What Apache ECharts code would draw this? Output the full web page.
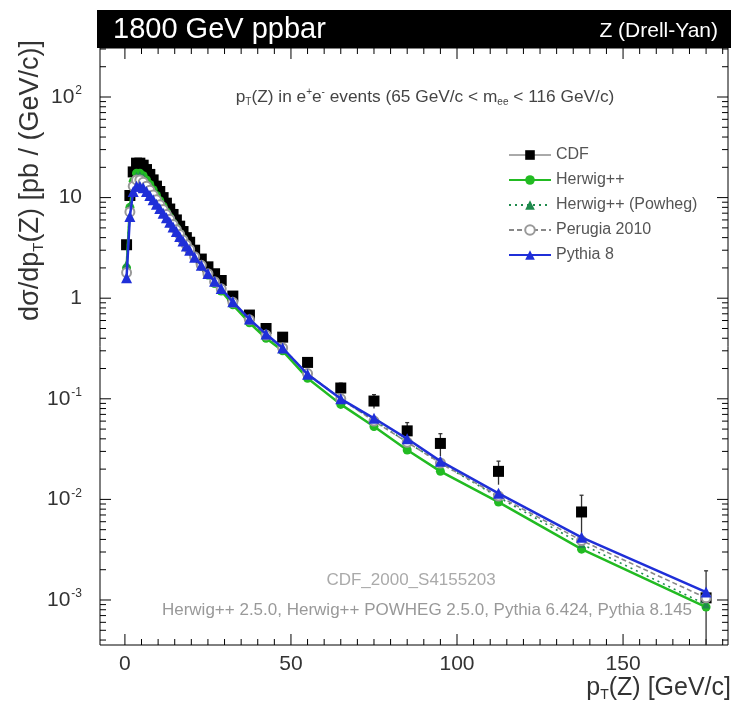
<!DOCTYPE html>
<html><head><meta charset="utf-8">
<script src="https://cdn.jsdelivr.net/npm/echarts@6/dist/echarts.min.js"></script>
<style>html,body{margin:0;padding:0;background:#fff}#c{width:738px;height:704px}</style>
</head><body><div id="c"></div>
<script>
// pT bin centres (GeV/c)
const ptBins = [0.5,1.5,2.5,3.5,4.5,5.5,6.5,7.5,8.5,9.5,10.5,11.5,12.5,13.5,14.5,15.5,16.5,17.5,18.5,19.5,21,23,25,27,29,32.5,37.5,42.5,47.5,55,65,75,85,95,112.5,137.5,175];
const cdf     = [3.4,10.5,18,22,22,21,19,17,15,13,11.5,10,8.8,7.7,6.8,6.0,5.2,4.6,4.0,3.6,3.0,2.45,2.05,1.75,1.5,1.05,0.68,0.5,0.41,0.23,0.128,0.095,0.048,0.036,0.019,0.0075,0.00105];
const cdfErr  = [0.25,0.5,0.7,0.8,0.8,0.8,0.7,0.6,0.6,0.5,0.5,0.4,0.4,0.35,0.3,0.3,0.25,0.25,0.2,0.2,0.15,0.13,0.12,0.1,0.1,0.07,0.05,0.045,0.04,0.02,0.015,0.015,0.01,0.009,0.005,0.0035,0.0009];
const herwig  = [2.0,8.0,14.5,17.5,17.5,16.5,15,13.5,12,10.5,9.3,8.2,7.2,6.4,5.6,5.0,4.4,3.9,3.45,3.05,2.55,2.08,1.7,1.4,1.18,0.86,0.57,0.4,0.3,0.16,0.088,0.053,0.031,0.019,0.0094,0.0032,0.00085];
const powheg  = [2.2,8.3,14.0,16.5,16.8,16.0,14.6,13.2,11.8,10.4,9.2,8.2,7.2,6.4,5.7,5.1,4.5,4.0,3.5,3.1,2.6,2.12,1.74,1.44,1.22,0.9,0.6,0.42,0.32,0.175,0.1,0.061,0.037,0.023,0.0105,0.0036,0.0009];
const perugia = [1.8,7.2,13.0,15.0,15.0,14.2,13.0,11.8,10.6,9.5,8.5,7.6,6.8,6.1,5.4,4.8,4.3,3.8,3.4,3.05,2.58,2.12,1.75,1.46,1.24,0.91,0.61,0.43,0.32,0.178,0.1,0.06,0.037,0.023,0.0108,0.0039,0.00105];
const pythia8 = [1.6,6.5,11.5,13,13,12.5,11.5,10.5,9.5,8.6,7.8,7.0,6.3,5.7,5.1,4.6,4.1,3.7,3.3,3.0,2.55,2.12,1.76,1.47,1.25,0.92,0.62,0.44,0.32,0.175,0.1,0.064,0.04,0.024,0.0115,0.0042,0.0012];
const xTickLabels = [0,50,100,150];
const yTickLabels = [0.001,0.01,0.1,1,10,100];
const seriesNames = ['CDF','Herwig++','Herwig++ (Powheg)','Perugia 2010','Pythia 8'];

const FONT = '"Liberation Sans", Arial, Helvetica, sans-serif';
const XMIN = -7.5, XMAX = 181.6, YMIN = 3.57e-4, YMAX = 307;

// tick positions (axis furniture, not data)
const xTicks = []; for (let v = 0; v <= 180; v += 5) xTicks.push([v, YMIN, v % 50 === 0 ? 11 : 6]);
const yTicks = [];
for (let e = -4; e <= 2; e++) for (let k = 1; k <= 9; k++) {
  const v = k * Math.pow(10, e);
  if (v > YMIN && v < YMAX) yTicks.push([XMIN, v, k === 1 ? 11 : 6]);
}

const zip = arr => ptBins.map((x, i) => [x, arr[i]]);
const tickStyle = {stroke: '#000', lineWidth: 1};

const chart = echarts.init(document.getElementById('c'), null, {renderer: 'canvas'});
chart.setOption({
  animation: false,
  backgroundColor: '#fff',
  grid: {left: 100, right: 10, top: 48, bottom: 59, containLabel: false, show: true, borderColor: '#000', borderWidth: 1, backgroundColor: 'transparent'},
  xAxis: {
    type: 'value', min: XMIN, max: XMAX,
    axisLine: {show: false}, axisTick: {show: false}, splitLine: {show: false},
    axisLabel: {show: true, customValues: xTickLabels, fontFamily: FONT, fontSize: 21, color: '#333', margin: 9}
  },
  yAxis: {
    type: 'log', logBase: 10, min: YMIN, max: YMAX,
    axisLine: {show: false}, axisTick: {show: false}, splitLine: {show: false},
    axisLabel: {
      show: true, customValues: yTickLabels, fontFamily: FONT, fontSize: 21, color: '#333', margin: 18,
      formatter: v => {
        const e = Math.round(Math.log10(v));
        if (e === 0) return '1';
        if (e === 1) return '10';
        return '10{sup|' + String(e) + '}';
      },
      rich: {sup: {fontSize: 12, verticalAlign: 'top', padding: [0, 0, 12, 1], fontFamily: FONT, color: '#333'}}
    }
  },
  legend: {
    orient: 'vertical', left: 503, top: 142, itemWidth: 42, itemHeight: 12, itemGap: 9,
    textStyle: {fontFamily: FONT, fontSize: 16, color: '#555'},
    data: [
      {name: 'CDF', lineStyle: {opacity: 1, width: 1, color: '#555'}},
      {name: 'Herwig++'}, {name: 'Herwig++ (Powheg)'}, {name: 'Perugia 2010'}, {name: 'Pythia 8'}
    ]
  },
  series: [
    {name: 'xticks', type: 'custom', data: xTicks, clip: false, silent: true, z: 1,
     renderItem: (params, api) => {
       const cs = params.coordSys; const len = api.value(2);
       const x = api.coord([api.value(0), YMIN])[0];
       return {type: 'group', children: [
         {type: 'line', shape: {x1: x, y1: cs.y + cs.height, x2: x, y2: cs.y + cs.height - len}, style: tickStyle},
         {type: 'line', shape: {x1: x, y1: cs.y, x2: x, y2: cs.y + len}, style: tickStyle}
       ]};
     }},
    {name: 'yticks', type: 'custom', data: yTicks, clip: false, silent: true, z: 1,
     renderItem: (params, api) => {
       const cs = params.coordSys; const len = api.value(2);
       const y = api.coord([XMIN, api.value(1)])[1];
       return {type: 'group', children: [
         {type: 'line', shape: {x1: cs.x, y1: y, x2: cs.x + len, y2: y}, style: tickStyle},
         {type: 'line', shape: {x1: cs.x + cs.width, y1: y, x2: cs.x + cs.width - len, y2: y}, style: tickStyle}
       ]};
     }},
    {name: seriesNames[0], type: 'line', data: zip(cdf), symbol: 'rect', symbolSize: 11,
     itemStyle: {color: '#000'}, lineStyle: {opacity: 0, width: 1, color: '#555'}, z: 3},
    {name: 'CDF err', type: 'custom', data: ptBins.map((x, i) => [x, cdf[i], cdfErr[i]]), clip: true, z: 2,
     renderItem: (params, api) => {
       const x = api.value(0), y = api.value(1), e = api.value(2);
       const lo = Math.max(y - e, YMIN * 0.5);
       const p1 = api.coord([x, y + e]), p0 = api.coord([x, lo]);
       return {type: 'group', children: [
         {type: 'line', shape: {x1: p1[0], y1: p1[1], x2: p0[0], y2: p0[1]}, style: {stroke: '#333', lineWidth: 1.3}},
         {type: 'line', shape: {x1: p1[0] - 2, y1: p1[1], x2: p1[0] + 2, y2: p1[1]}, style: {stroke: '#333', lineWidth: 1.3}}
       ]};
     }},
    {name: seriesNames[1], type: 'line', data: zip(herwig), symbol: 'circle', symbolSize: 9,
     itemStyle: {color: '#22bb22'}, lineStyle: {color: '#22bb22', width: 2.5}, z: 4},
    {name: seriesNames[2], type: 'line', data: zip(powheg), symbol: 'triangle', symbolSize: 8,
     itemStyle: {color: '#1f8a4c'}, lineStyle: {color: '#1f8a4c', width: 1.6, type: [2, 4]}, z: 5},
    {name: seriesNames[3], type: 'line', data: zip(perugia), symbol: 'emptyCircle', symbolSize: 9,
     itemStyle: {color: '#999', borderColor: '#999'}, lineStyle: {color: '#888', width: 1.6, type: [5, 3]}, z: 6},
    {name: seriesNames[4], type: 'line', data: zip(pythia8), symbol: 'triangle', symbolSize: 11,
     itemStyle: {color: '#1f2fd8'}, lineStyle: {color: '#1f2fd8', width: 2.5}, z: 7}
  ],
  graphic: [
    {type: 'rect', shape: {x: 97, y: 10, width: 634, height: 38}, style: {fill: '#000'}, z: 10},
    {type: 'text', x: 113, y: 30, z: 11, style: {text: '1800 GeV ppbar', fill: '#fff', font: '29px ' + FONT, verticalAlign: 'middle'}},
    {type: 'text', x: 718, y: 31, z: 11, style: {text: 'Z (Drell-Yan)', fill: '#fff', font: '21px ' + FONT, align: 'right', verticalAlign: 'middle'}},
    {type: 'text', x: 425, y: 97, z: 11, style: {
      text: 'p{sub|T}(Z) in e{sup|+}e{sup|-} events (65 GeV/c < m{sub|ee} < 116 GeV/c)',
      font: '17.3px ' + FONT, fill: '#444', align: 'center', verticalAlign: 'middle',
      rich: {sub: {fontSize: 10, padding: [10, 0, 0, 0], fill: '#444', fontFamily: FONT}, sup: {fontSize: 10, padding: [0, 0, 10, 0], fill: '#444', fontFamily: FONT}}
    }},
    {type: 'text', x: 411, y: 580, z: 11, style: {text: 'CDF_2000_S4155203', font: '17px ' + FONT, fill: '#aaa', align: 'center', verticalAlign: 'middle'}},
    {type: 'text', x: 427, y: 610, z: 11, style: {text: 'Herwig++ 2.5.0, Herwig++ POWHEG 2.5.0, Pythia 6.424, Pythia 8.145', font: '17px ' + FONT, fill: '#999', align: 'center', verticalAlign: 'middle'}},
    {type: 'text', x: 31, y: 40, rotation: Math.PI / 2, z: 11, style: {
      text: 'dσ/dp{sub|T}(Z) [pb / (GeV/c)]', font: '27px ' + FONT, fill: '#333', align: 'right', verticalAlign: 'middle',
      rich: {sub: {fontSize: 15, padding: [15, 0, 0, 0], fill: '#333', fontFamily: FONT}}
    }},
    {type: 'text', x: 731, y: 688, z: 11, style: {
      text: 'p{sub|T}(Z) [GeV/c]', font: '25px ' + FONT, fill: '#333', align: 'right', verticalAlign: 'middle',
      rich: {sub: {fontSize: 14, padding: [14, 0, 0, 0], fill: '#333', fontFamily: FONT}}
    }}
  ]
});
</script></body></html>
